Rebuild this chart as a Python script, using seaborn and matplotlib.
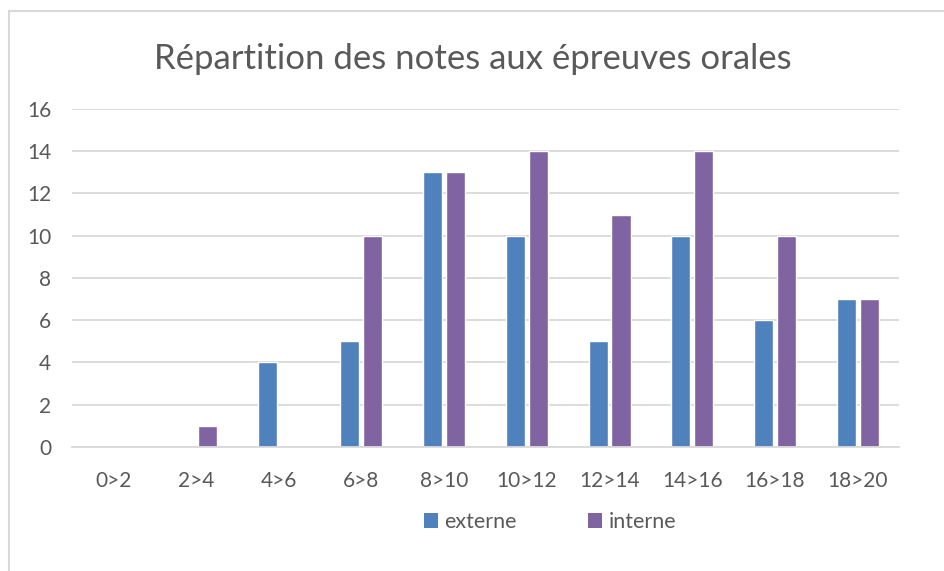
import matplotlib
matplotlib.use("Agg")
import matplotlib.pyplot as plt
from matplotlib.lines import Line2D
from matplotlib.patches import Patch
import pandas as pd
import seaborn as sns

# Data
categories = ["0>2", "2>4", "4>6", "6>8", "8>10", "10>12", "12>14", "14>16", "16>18", "18>20"]
externe = [0, 0, 4, 5, 13, 10, 5, 10, 6, 7]
interne = [0, 1, 0, 10, 13, 14, 11, 14, 10, 7]
series_names = ["externe", "interne"]
colors = {"externe": "#4F81BD", "interne": "#8064A2"}

df = pd.DataFrame({
    "tranche": categories * 2,
    "serie": ["externe"] * len(categories) + ["interne"] * len(categories),
    "nombre": externe + interne,
})

sns.set_theme(style="white")
plt.rcParams["font.family"] = ["Lato", "DejaVu Sans"]
text_color = "#595959"
grid_color = "#D9D9D9"

fig = plt.figure(figsize=(9.45, 5.71), dpi=100)
ax = fig.add_axes([0.0762, 0.2172, 0.8751, 0.5920])

sns.barplot(
    data=df, x="tranche", y="nombre", hue="serie",
    order=categories, hue_order=series_names, palette=colors,
    width=0.556, gap=0.17, saturation=1, legend=False, ax=ax,
)

ax.set_ylim(0, 16)
ax.set_yticks(range(0, 17, 2))
ax.set_xlim(-0.5, len(categories) - 0.5)
ax.set_xlabel("")
ax.set_ylabel("")
ax.yaxis.grid(True, color=grid_color, linewidth=1.3)
ax.set_axisbelow(True)
for side in ["left", "right", "top"]:
    ax.spines[side].set_visible(False)
ax.spines["bottom"].set_color(grid_color)
ax.spines["bottom"].set_linewidth(1.3)
ax.tick_params(axis="both", length=0, labelsize=15, colors=text_color)
ax.tick_params(axis="y", pad=15)
ax.tick_params(axis="x", pad=17)

fig.text(0.5, 0.897, "Répartition des notes aux épreuves orales",
         ha="center", va="center", fontsize=25, color=text_color)

handles = [Patch(facecolor=colors[s], edgecolor="none") for s in series_names]
fig.legend(handles, series_names, loc="center", bbox_to_anchor=(0.582, 0.086),
           ncol=2, frameon=False, fontsize=15.5, labelcolor=text_color,
           handlelength=0.65, handleheight=0.65, handletextpad=0.3,
           columnspacing=3.3)

# chart border (partly cropped in the reference)
fig.add_artist(Line2D([0.0095, 0.0095], [0.0, 0.981], color=grid_color,
                      linewidth=1.5, transform=fig.transFigure))
fig.add_artist(Line2D([0.0095, 1.0], [0.981, 0.981], color=grid_color,
                      linewidth=1.5, transform=fig.transFigure))

fig.savefig("out.png", dpi=100, facecolor="white")
